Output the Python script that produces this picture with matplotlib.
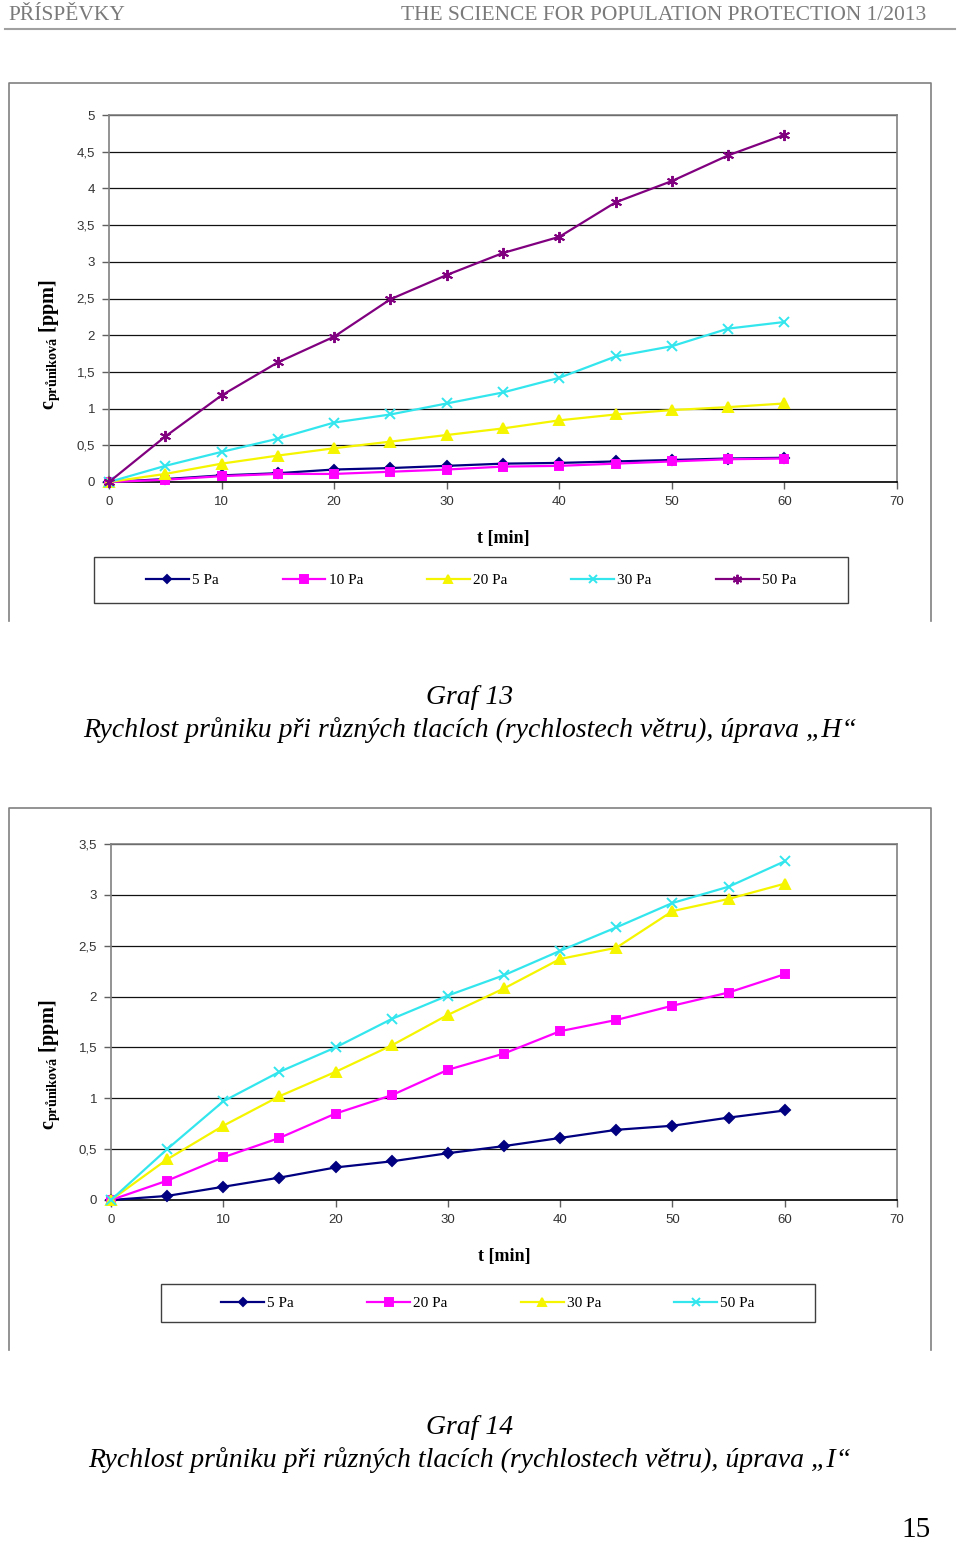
"""
Graf 13 / Graf 14 - rychlost pruniku pri ruznych tlacich (page 15)
"""
import matplotlib
matplotlib.use("Agg")
import matplotlib.pyplot as plt
from matplotlib.patches import Rectangle

plt.rcParams['font.family'] = ['Liberation Serif', 'DejaVu Serif']
plt.rcParams['mathtext.fontset'] = 'custom'
plt.rcParams['mathtext.rm'] = 'Liberation Serif'
plt.rcParams['mathtext.bf'] = 'Liberation Serif:bold'

W, H = 960, 1543

# time axis [min]
t = [0, 5, 10, 15, 20, 25, 30, 35, 40, 45, 50, 55, 60]

# Graf 13 - uprava "H"
h_labels = ['5 Pa', '10 Pa', '20 Pa', '30 Pa', '50 Pa']
h_5 = [0, 0.04, 0.09, 0.12, 0.17, 0.19, 0.22, 0.25, 0.26, 0.28, 0.30, 0.32, 0.33]
h_10 = [0, 0.03, 0.08, 0.11, 0.11, 0.14, 0.17, 0.21, 0.22, 0.25, 0.28, 0.31, 0.32]
h_20 = [0, 0.11, 0.25, 0.36, 0.46, 0.55, 0.64, 0.73, 0.84, 0.92, 0.98, 1.02, 1.07]
h_30 = [0, 0.22, 0.41, 0.59, 0.81, 0.92, 1.07, 1.22, 1.42, 1.71, 1.85, 2.09, 2.18]
h_50 = [0, 0.62, 1.18, 1.63, 1.98, 2.49, 2.82, 3.12, 3.34, 3.81, 4.10, 4.45, 4.73]

# Graf 14 - uprava "I"
i_labels = ['5 Pa', '20 Pa', '30 Pa', '50 Pa']
i_5 = [0, 0.04, 0.13, 0.22, 0.32, 0.38, 0.46, 0.53, 0.61, 0.69, 0.73, 0.81, 0.88]
i_20 = [0, 0.19, 0.42, 0.61, 0.85, 1.03, 1.28, 1.44, 1.66, 1.77, 1.91, 2.04, 2.22]
i_30 = [0, 0.40, 0.73, 1.02, 1.26, 1.52, 1.82, 2.08, 2.37, 2.48, 2.84, 2.96, 3.11]
i_50 = [0, 0.50, 0.97, 1.26, 1.50, 1.78, 2.01, 2.21, 2.45, 2.68, 2.92, 3.08, 3.33]

# excel-like series styles (colour, marker, size)
styles = [
    ('#000080', 'D', 5),
    ('#FF00FF', 's', 6),
    ('#F5F500', '^', 7),
    ('#33E6EE', 'x', 7),
    ('#800080', (6, 2, 0), 8),
]


def frac(x0, y0, x1, y1):
    """pixel box (top-left origin) -> figure fraction rect"""
    return [x0 / W, 1 - y1 / H, (x1 - x0) / W, (y1 - y0) / H]


def comma(v):
    return f"{v:g}".replace('.', ',')


def draw_chart(fig, bg, box, frame, legend_box, series, labels, ymax, ycenter, colsp):
    ax = fig.add_axes(frac(*box))
    handles = []
    for (y, lab, (col, mk, ms)) in zip(series, labels, styles):
        ln, = ax.plot(t, y, color=col, marker=mk, markersize=ms, lw=1.6,
                      markeredgewidth=1.4, label=lab, clip_on=False, zorder=3)
        handles.append(ln)
    ax.set_xlim(0, 70)
    ax.set_ylim(0, ymax)
    yt = [k * 0.5 for k in range(int(ymax * 2) + 1)]
    ax.set_yticks(yt)
    ax.set_yticklabels([comma(v) for v in yt])
    ax.set_xticks(range(0, 71, 10))
    ax.grid(axis='y', color='#111111', lw=0.9)
    ax.set_axisbelow(True)
    for s in ['top', 'right', 'left']:
        ax.spines[s].set_color('#808080')
        ax.spines[s].set_linewidth(1.2)
    ax.spines['bottom'].set_color('#000000')
    ax.spines['bottom'].set_linewidth(1.2)
    ax.tick_params(axis='both', direction='out', length=5, width=1,
                   color='#606060', labelsize=9.5, labelcolor='#333333')
    for lbl in ax.get_xticklabels() + ax.get_yticklabels():
        lbl.set_family(['Liberation Sans', 'DejaVu Sans'])
    ax.tick_params(axis='y', pad=5)
    ax.tick_params(axis='x', pad=5)
    ax.set_xlabel('t [min]', fontsize=13, fontweight='bold', labelpad=16)

    # y label with subscript
    bg.text(50, ycenter, r'$\mathbf{c}_{\mathbf{průniková}}$ [ppm]', rotation=90,
            ha='center', va='center', fontsize=14.5, fontweight='bold')

    # outer chart frame (left, top, right)
    x0, y0, x1, y1 = frame
    bg.plot([x0, x0, x1, x1], [y1, y0, y0, y1], color='#808080', lw=1.2)

    # legend box
    lx0, ly0, lx1, ly1 = legend_box
    bg.add_patch(Rectangle((lx0, ly0), lx1 - lx0, ly1 - ly0, fill=False,
                           edgecolor='#404040', lw=1.0))
    cx = (lx0 + lx1) / 2 / W
    cy = 1 - (ly0 + ly1) / 2 / H
    fig.legend(handles=handles, loc='center', bbox_to_anchor=(cx, cy),
               ncol=len(handles), frameon=False, fontsize=11,
               handlelength=2.8, columnspacing=colsp, handletextpad=0.2,
               markerscale=0.85)
    return ax


fig = plt.figure(figsize=(W / 100, H / 100), dpi=100)
bg = fig.add_axes([0, 0, 1, 1])
bg.set_xlim(0, W)
bg.set_ylim(H, 0)
bg.axis('off')

# header
bg.text(8, 15, 'PŘÍSPĚVKY', fontsize=15.5, color='#7a7a7a', ha='left', va='center')
bg.text(926, 15, 'THE SCIENCE FOR POPULATION PROTECTION 1/2013', fontsize=15.5,
        color='#7a7a7a', ha='right', va='center')
bg.plot([5, 955], [29, 29], color='#a0a0a0', lw=1.5)

draw_chart(fig, bg, (109, 115, 897, 482), (9, 83, 931, 621), (94, 557, 848, 603),
           [h_5, h_10, h_20, h_30, h_50], h_labels, 5, 345, 4.2)
draw_chart(fig, bg, (111, 844, 897, 1200), (9, 808, 931, 1350), (161, 1284, 815, 1322),
           [i_5, i_20, i_30, i_50], i_labels, 3.5, 1065, 4.8)

# captions
cap = 'Rychlost průniku při různých tlacích (rychlostech větru), úprava „{}“'
fs = 20
bg.text(470, 698, 'Graf 13', fontsize=fs, style='italic', ha='center', va='center')
bg.text(470, 730, cap.format('H'), fontsize=fs, style='italic', ha='center', va='center')
bg.text(470, 1428, 'Graf 14', fontsize=fs, style='italic', ha='center', va='center')
bg.text(470, 1460, cap.format('I'), fontsize=fs, style='italic', ha='center', va='center')

bg.text(931, 1530, '15', fontsize=21, ha='right', va='center')

fig.savefig('out.png', dpi=100)
